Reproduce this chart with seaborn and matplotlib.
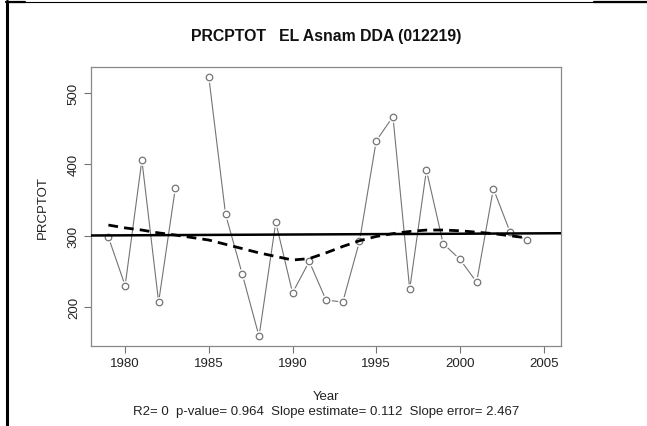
import numpy as np
import pandas as pd
import matplotlib
matplotlib.use("Agg")
import matplotlib.pyplot as plt
from matplotlib.lines import Line2D
import seaborn as sns

# ------------------------------ DATA ------------------------------
years = [1979, 1980, 1981, 1982, 1983, 1985, 1986, 1987, 1988, 1989, 1990,
         1991, 1992, 1993, 1994, 1995, 1996, 1997, 1998, 1999, 2000, 2001,
         2002, 2003, 2004]
prcptot = [298, 230, 406, 207, 367, 522, 330, 246, 159, 319, 220,
           264, 210, 207, 292, 433, 467, 225, 392, 289, 267, 235,
           366, 305, 294]
# 1984 missing -> line broken in two pieces
segment = [0] * 5 + [1] * 20
loess = [315, 311, 308, 304, 301, 294, 288, 282, 276, 271, 266,
         268, 276, 285, 293, 299, 303, 306, 308, 308, 307, 305,
         303, 300, 297]

slope = 0.112
fit_at_1979 = 300.5

title = "PRCPTOT   EL Asnam DDA (012219)"
subtitle = "R2= 0  p-value= 0.964  Slope estimate= 0.112  Slope error= 2.467"

df = pd.DataFrame({"Year": years, "PRCPTOT": prcptot, "seg": segment, "loess": loess})

# ------------------------------ PLOT ------------------------------
sns.set_style("white")
plt.rcParams["font.family"] = ["Liberation Sans", "DejaVu Sans"]

fig = plt.figure(figsize=(6.47, 4.27), dpi=100)
ax = fig.add_axes([91 / 647, 1 - 347 / 427, 470 / 647, 279 / 427])

grey = "#747474"
sns.lineplot(data=df, x="Year", y="PRCPTOT", units="seg", estimator=None,
             color=grey, lw=0.8, ax=ax, zorder=2)
# white halo so the line stops short of the circles (R type="b")
ax.scatter(df["Year"], df["PRCPTOT"], s=60, color="white", zorder=3, lw=0)
sns.scatterplot(data=df, x="Year", y="PRCPTOT", s=22, facecolor="white",
                edgecolor=grey, linewidth=0.9, ax=ax, zorder=4)

# regression line (abline)
ax.axline((1979, fit_at_1979), slope=slope, color="black", lw=1.8, zorder=5)
# loess smooth
sns.lineplot(data=df, x="Year", y="loess", color="black", lw=2.0,
             dashes=False, ax=ax, zorder=6)
ax.lines[-1].set_linestyle((0, (3.5, 2.2)))

ax.set_xlim(1977.96, 2006.04)
ax.set_ylim(145.5, 536.5)
ax.set_xticks([1980, 1985, 1990, 1995, 2000, 2005])
ax.set_yticks([200, 300, 400, 500])
for lab in ax.get_yticklabels():
    lab.set_rotation(90)
    lab.set_va("center")
ax.tick_params(axis="both", length=5, width=0.8, color=grey, labelsize=9.5,
               labelcolor="#222222", bottom=True, left=True, pad=3)
for sp in ax.spines.values():
    sp.set_color("#888888")
    sp.set_linewidth(0.9)

ax.set_xlabel("")
ax.set_ylabel("PRCPTOT", fontsize=9.5, color="#222222", labelpad=14)

fig.text(326 / 647, 1 - 37 / 427, title, ha="center", va="center",
         fontsize=11.4, fontweight="bold", color="#111111")
fig.text(326 / 647, 1 - 397 / 427, "Year", ha="center", va="center",
         fontsize=9.5, color="#222222")
fig.text(326 / 647, 1 - 412 / 427, subtitle, ha="center", va="center",
         fontsize=9.5, color="#222222")

# surrounding table-cell borders
fig.add_artist(Line2D([7 / 647, 7 / 647], [0, 1 - 2 / 427], color="black", lw=2.2,
                      transform=fig.transFigure))
fig.add_artist(Line2D([6 / 647, 1], [1 - 2.5 / 427, 1 - 2.5 / 427], color="black",
                      lw=0.8, transform=fig.transFigure))
fig.add_artist(Line2D([6 / 647, 25 / 647], [1 - 3 / 427, 1 - 3 / 427], color="black",
                      lw=1.6, transform=fig.transFigure))
fig.add_artist(Line2D([594 / 647, 1], [1 - 3 / 427, 1 - 3 / 427], color="black",
                      lw=1.6, transform=fig.transFigure))

fig.savefig("out.png", dpi=100, facecolor="white")
